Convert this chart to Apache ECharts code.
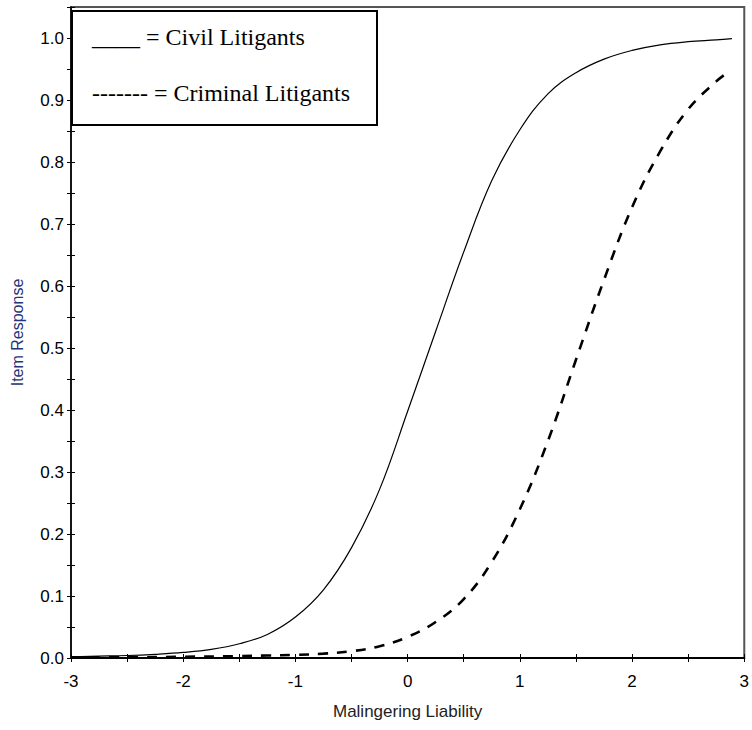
<!DOCTYPE html>
<html>
<head>
<meta charset="utf-8">
<script src="https://cdn.jsdelivr.net/npm/echarts@6/dist/echarts.min.js"></script>
<style>
html,body{margin:0;padding:0;background:#fff;}
#chart{width:752px;height:730px;}
</style>
</head>
<body>
<div id="chart"></div>
<script>
// Civil litigants (solid line): x positions and item response values
const civilX = [-3.0, -2.75, -2.5, -2.25, -2.0, -1.75, -1.5, -1.25, -1.0, -0.75, -0.5, -0.25, 0.0, 0.25, 0.5, 0.75, 1.0, 1.25, 1.5, 1.75, 2.0, 2.25, 2.5, 2.75, 2.89];
const civilY = [0.002, 0.003, 0.004, 0.006, 0.009, 0.014, 0.023, 0.038, 0.066, 0.110, 0.178, 0.272, 0.398, 0.527, 0.655, 0.770, 0.852, 0.910, 0.944, 0.966, 0.980, 0.989, 0.994, 0.997, 0.999];
// Criminal litigants (dashed line)
const criminalX = [-3.0, -2.5, -2.0, -1.5, -1.25, -1.0, -0.75, -0.5, -0.25, 0.0, 0.25, 0.5, 0.75, 1.0, 1.25, 1.5, 1.75, 2.0, 2.25, 2.5, 2.75, 2.85];
const criminalY = [0.001, 0.001, 0.002, 0.003, 0.004, 0.005, 0.007, 0.011, 0.019, 0.034, 0.058, 0.095, 0.155, 0.240, 0.350, 0.481, 0.610, 0.727, 0.817, 0.885, 0.930, 0.944];
// Axis texts
const xAxisTitle = 'Malingering Liability';
const yAxisTitle = 'Item Response';
const legendTexts = ['____ = Civil Litigants', '------- = Criminal Litigants'];

const pairs = (xs, ys) => xs.map((x, i) => [x, ys[i]]);
const sansFont = '"Liberation Sans", Arial, sans-serif';
const serifFont = '24px "Liberation Serif", "Times New Roman", serif';

const chart = echarts.init(document.getElementById('chart'), null, {renderer: 'svg'});

const xBase = {
  type: 'value', min: -3, max: 3, interval: 0.5, position: 'bottom',
  splitLine: {show: false}
};
const yBase = {
  type: 'value', min: 0, max: 1.05, interval: 0.05, position: 'left',
  splitLine: {show: false}
};

chart.setOption({
  animation: false,
  backgroundColor: '#fff',
  grid: {left: 71, right: 6, top: 7, bottom: 72, show: true, borderColor: '#555', borderWidth: 2, backgroundColor: 'transparent'},
  xAxis: [
    Object.assign({}, xBase, {
      name: xAxisTitle, nameLocation: 'middle', nameGap: 45,
      nameTextStyle: {fontFamily: sansFont, fontSize: 17, color: '#222'},
      axisLine: {show: true, onZero: false, lineStyle: {color: '#000', width: 2}},
      axisTick: {show: true, inside: false, length: 4, lineStyle: {color: '#000', width: 1}},
      axisLabel: {
        show: true, margin: 15, color: '#000', fontFamily: sansFont, fontSize: 17,
        formatter: v => (Math.abs(v - Math.round(v)) < 1e-9 ? String(Math.round(v)) : '')
      }
    }),
    Object.assign({}, xBase, {
      axisLine: {show: false, onZero: false},
      axisTick: {show: true, inside: true, length: 4, lineStyle: {color: '#000', width: 1}},
      axisLabel: {show: false}
    })
  ],
  yAxis: [
    Object.assign({}, yBase, {
      name: yAxisTitle, nameLocation: 'middle', nameGap: 46,
      nameTextStyle: {fontFamily: sansFont, fontSize: 16, color: '#25357a'},
      axisLine: {show: true, onZero: false, lineStyle: {color: '#000', width: 1.5}},
      axisTick: {show: true, inside: false, length: 4, lineStyle: {color: '#000', width: 1}},
      axisLabel: {
        show: true, margin: 7, color: '#000', fontFamily: sansFont, fontSize: 17,
        formatter: v => {
          const k = Math.round(v * 100);
          return (k % 10 === 0 && k <= 100) ? (k / 100).toFixed(1) : '';
        }
      }
    }),
    Object.assign({}, yBase, {
      axisLine: {show: false, onZero: false},
      axisTick: {show: true, inside: true, length: 4, lineStyle: {color: '#000', width: 1}},
      axisLabel: {show: false}
    })
  ],
  series: [
    {
      name: 'Civil Litigants', type: 'line', xAxisIndex: 0, yAxisIndex: 0,
      data: pairs(civilX, civilY), smooth: 0.4, showSymbol: false, symbol: 'none',
      lineStyle: {color: '#000', width: 1.2, type: 'solid'}
    },
    {
      name: 'Criminal Litigants', type: 'line', xAxisIndex: 0, yAxisIndex: 0,
      data: pairs(criminalX, criminalY), smooth: 0.4, showSymbol: false, symbol: 'none',
      lineStyle: {color: '#000', width: 2.6, type: [10, 9]}
    }
  ],
  graphic: [
    {
      type: 'rect', z: 100, shape: {x: 72, y: 11, width: 305, height: 114},
      style: {fill: '#fff', stroke: '#000', lineWidth: 2}
    },
    {
      type: 'text', z: 101, x: 92, y: 25,
      style: {text: legendTexts[0], font: serifFont, fill: '#000', verticalAlign: 'top'}
    },
    {
      type: 'text', z: 101, x: 92, y: 81,
      style: {text: legendTexts[1], font: serifFont, fill: '#000', verticalAlign: 'top'}
    }
  ]
});
</script>
</body>
</html>
